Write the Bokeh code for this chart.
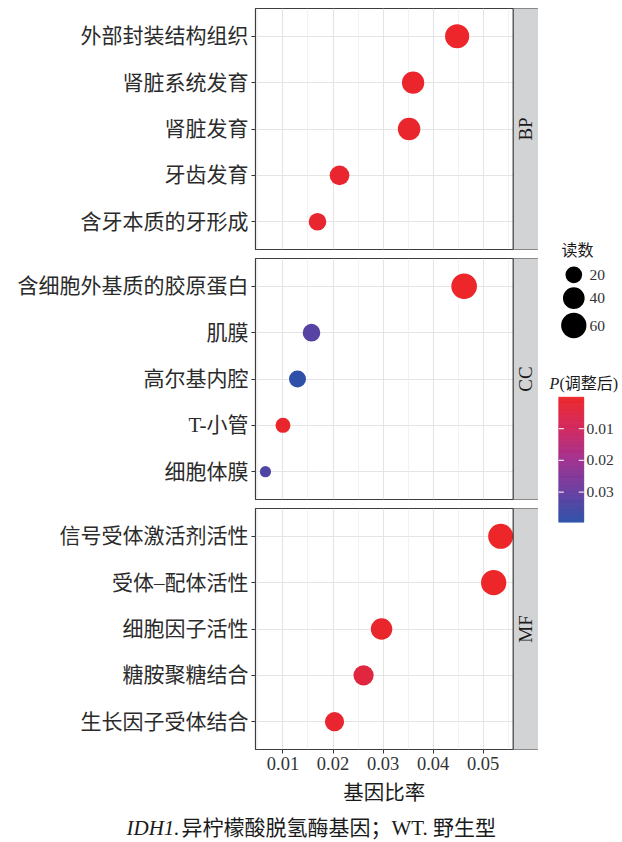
import numpy as np
from bokeh.plotting import figure
from bokeh.layouts import column, row
from bokeh.models import (FactorRange, Range1d, FixedTicker, LinearColorMapper,
                          ColumnDataSource, Grid, LinearAxis, Span, PrintfTickFormatter)
from bokeh.transform import transform
from bokeh.core.properties import value
from bokeh.embed import file_html
from bokeh.resources import INLINE

# ---------------- data ----------------
bp_terms = ["外部封装结构组织", "肾脏系统发育", "肾脏发育", "牙齿发育", "含牙本质的牙形成"]
bp_ratio = [0.0448, 0.0360, 0.0352, 0.0213, 0.0169]
bp_count = [53, 43, 44, 31, 23]
bp_padj = [0.0003, 0.0008, 0.0009, 0.0012, 0.0015]

cc_terms = ["含细胞外基质的胶原蛋白", "肌膜", "高尔基内腔", "T-小管", "细胞体膜"]
cc_ratio = [0.0462, 0.0157, 0.0129, 0.0100, 0.0065]
cc_count = [62, 23, 21, 15, 7]
cc_padj = [0.0001, 0.0330, 0.0395, 0.0010, 0.0340]

mf_terms = ["信号受体激活剂活性", "受体–配体活性", "细胞因子活性", "糖胺聚糖结合", "生长因子受体结合"]
mf_ratio = [0.0535, 0.0521, 0.0297, 0.0261, 0.0203]
mf_count = [58, 60, 39, 33, 29]
mf_padj = [0.0002, 0.0002, 0.0010, 0.0045, 0.0012]

ratio_ticks = [0.01, 0.02, 0.03, 0.04, 0.05]
ratio_minor = [0.005, 0.015, 0.025, 0.035, 0.045, 0.055]
count_breaks = [20, 40, 60]
padj_breaks = [0.01, 0.02, 0.03]

x_title = "基因比率"
size_title = "读数"
caption_italic = "IDH1."
caption_rest = "异柠檬酸脱氢酶基因；WT. 野生型"

# ---------------- styling ----------------
SERIF = "Liberation Serif, Noto Sans CJK SC"
BORDER = "#3c3c3c"
GRID = "#e4e4e4"
STRIP_FILL = "#d2d3d5"

X_LO, X_DATA_HI, X_HI = 0.00451, 0.0560, 0.06106   # panel range + strip
FRAME_W, FRAME_H, LEFT = 283, 241, 255


def diameter(c):
    return 16.7 * (c / 20.0) ** 0.378


def build_palette(n=256):
    anchors = [(0.0, "#ec2629"), (0.25, "#d2275e"), (0.5, "#a2308f"),
               (0.75, "#6a3da0"), (1.0, "#2e50a8")]
    pos = np.array([a[0] for a in anchors])
    rgb = np.array([[int(h[i:i + 2], 16) for i in (1, 3, 5)] for _, h in anchors], float)
    out = []
    for t in np.linspace(0, 1, n):
        c = [int(round(np.interp(t, pos, rgb[:, k]))) for k in range(3)]
        out.append("#%02x%02x%02x" % tuple(c))
    return out


all_padj = bp_padj + cc_padj + mf_padj
P_LO, P_HI = min(all_padj), max(all_padj)
mapper = LinearColorMapper(palette=build_palette(), low=P_LO, high=P_HI)


def make_panel(terms, ratio, count, padj, strip, top, bottom, with_axis):
    src = ColumnDataSource(dict(term=terms, ratio=ratio, count=count, padj=padj,
                                dia=[diameter(c) for c in count]))
    p = figure(frame_width=FRAME_W, frame_height=FRAME_H,
               x_range=Range1d(X_LO, X_HI),
               y_range=FactorRange(factors=list(reversed(terms)), range_padding=0.1,
                                   range_padding_units="absolute"),
               x_axis_location=None, y_axis_location="left",
               min_border_left=LEFT, min_border_right=0,
               min_border_top=top, min_border_bottom=bottom,
               output_backend="svg", toolbar_location=None)
    p.background_fill_color = "white"
    p.border_fill_color = "white"
    p.outline_line_color = BORDER
    p.outline_line_width = 1.2
    p.xgrid.visible = False
    p.add_layout(Grid(dimension=0,
                      ticker=FixedTicker(ticks=ratio_ticks, minor_ticks=ratio_minor),
                      grid_line_color=GRID, grid_line_width=1.1,
                      minor_grid_line_color="#ececec", minor_grid_line_width=0.7),
                 "center")
    p.ygrid.grid_line_color = GRID
    p.ygrid.grid_line_width = 1.1

    ax = p.yaxis[0]
    ax.axis_line_color = None
    ax.major_tick_out = 4
    ax.major_tick_in = 0
    ax.major_tick_line_color = "#333333"
    ax.major_label_standoff = 3
    ax.major_label_text_font = SERIF
    ax.major_label_text_font_size = "21px"
    ax.major_label_text_color = "#2b2b2b"

    # facet strip
    p.quad(left=[X_DATA_HI], right=[X_HI], bottom=[-1], top=[7],
           fill_color=STRIP_FILL, line_color=None)
    p.text(x=[(X_DATA_HI + X_HI) / 2], y=[len(terms) / 2], text=[strip],
           angle=np.pi / 2, text_align="center", text_baseline="middle",
           text_font=value("Liberation Serif"), text_font_size="19px",
           text_color="#1a1a1a")

    p.scatter(x="ratio", y="term", size="dia", source=src,
              fill_color=transform("padj", mapper), line_color=None)
    p.add_layout(Span(location=X_DATA_HI, dimension="height",
                      line_color=BORDER, line_width=1.2))

    if with_axis:
        xa = LinearAxis(ticker=FixedTicker(ticks=ratio_ticks),
                        formatter=PrintfTickFormatter(format="%.2f"))
        xa.axis_line_color = None
        xa.major_tick_out = 4
        xa.major_tick_in = 0
        xa.minor_tick_out = 0
        xa.minor_tick_in = 0
        xa.major_tick_line_color = "#333333"
        xa.major_label_standoff = 3
        xa.major_label_text_font = "Liberation Serif"
        xa.major_label_text_font_size = "18.5px"
        xa.major_label_text_color = "#333333"
        p.add_layout(xa, "below")
    return p


f1 = make_panel(bp_terms, bp_ratio, bp_count, bp_padj, "BP", 8, 4, False)
f2 = make_panel(cc_terms, cc_ratio, cc_count, cc_padj, "CC", 5, 4, False)
f3 = make_panel(mf_terms, mf_ratio, mf_count, mf_padj, "MF", 5, 29, True)

PANEL_H = (8 + 241 + 4) + (5 + 241 + 4) + (5 + 241 + 29)
LEG_W = 622 - (LEFT + FRAME_W)

# ---------------- legends ----------------
leg = figure(width=LEG_W, height=PANEL_H, x_range=Range1d(0, LEG_W),
             y_range=Range1d(PANEL_H, 0), min_border=0,
             x_axis_location=None, y_axis_location=None,
             output_backend="svg", toolbar_location=None)
leg.outline_line_color = None
leg.grid.visible = False

# size legend
leg.text(x=[23], y=[250], text=[size_title], text_align="left", text_baseline="middle",
         text_font=value(SERIF), text_font_size="16px", text_color="#1a1a1a")
size_src = ColumnDataSource(dict(x=[35.3] * 3, y=[274.3, 297.7, 325.0],
                                 dia=[diameter(c) for c in count_breaks],
                                 lab=[str(c) for c in count_breaks]))
leg.scatter(x="x", y="y", size="dia", source=size_src, fill_color="black", line_color=None)
leg.text(x=51, y="y", text="lab", source=size_src, text_align="left",
         text_baseline="middle", text_font=value("Liberation Serif"),
         text_font_size="15.5px", text_color="#333333")

# colour bar
BAR_X0, BAR_X1, BAR_TOP, BAR_H = 20.3, 45.3, 396.7, 125.0


def bar_y(p):
    return BAR_TOP + (p - P_LO) / (P_HI - P_LO) * BAR_H


leg.text(x=[11], y=[383], text=["P"], text_align="left", text_baseline="middle",
         text_font=value("Liberation Serif"), text_font_style="italic",
         text_font_size="16px", text_color="#1a1a1a")
leg.text(x=[21], y=[383], text=["(调整后)"], text_align="left", text_baseline="middle",
         text_font=value(SERIF), text_font_size="16px", text_color="#1a1a1a")

nb = 160
vals = np.linspace(P_LO, P_HI, nb)
edges = np.linspace(BAR_TOP, BAR_TOP + BAR_H, nb + 1)
bar_src = ColumnDataSource(dict(v=vals, top=edges[:-1], bottom=edges[1:]))
leg.quad(left=BAR_X0, right=BAR_X1, top="top", bottom="bottom", source=bar_src,
         fill_color=transform("v", mapper), line_color=transform("v", mapper),
         line_width=0.6)
tick_y = [bar_y(v) for v in padj_breaks]
leg.segment(x0=[BAR_X0] * 3, x1=[BAR_X0 + 5] * 3, y0=tick_y, y1=tick_y,
            line_color="white", line_width=1.2, line_alpha=0.85)
leg.segment(x0=[BAR_X1 - 5] * 3, x1=[BAR_X1] * 3, y0=tick_y, y1=tick_y,
            line_color="white", line_width=1.2, line_alpha=0.85)
leg.text(x=[48] * 3, y=tick_y, text=["%.2f" % v for v in padj_breaks],
         text_align="left", text_baseline="middle",
         text_font=value("Liberation Serif"), text_font_size="15.5px",
         text_color="#333333")

# ---------------- axis title and caption ----------------
FOOT_H = 842 - PANEL_H
foot = figure(width=622, height=FOOT_H, x_range=Range1d(0, 622),
              y_range=Range1d(FOOT_H, 0), min_border=0,
              x_axis_location=None, y_axis_location=None,
              output_backend="svg", toolbar_location=None)
foot.outline_line_color = None
foot.grid.visible = False
foot.text(x=[LEFT + (FRAME_W - 25.3) / 2], y=[14], text=[x_title], text_align="center",
          text_baseline="middle", text_font=value(SERIF), text_font_size="20.5px",
          text_color="#1a1a1a")
foot.text(x=[126], y=[49], text=[caption_italic], text_align="left",
          text_baseline="middle", text_font=value("Liberation Serif"),
          text_font_style="italic", text_font_size="21px", text_color="#1a1a1a")
foot.text(x=[181], y=[49], text=[caption_rest], text_align="left",
          text_baseline="middle", text_font=value(SERIF), text_font_size="21px",
          text_color="#1a1a1a")

layout = column(row(column(f1, f2, f3), leg), foot)

open("out.html", "w").write(file_html(layout, INLINE))
